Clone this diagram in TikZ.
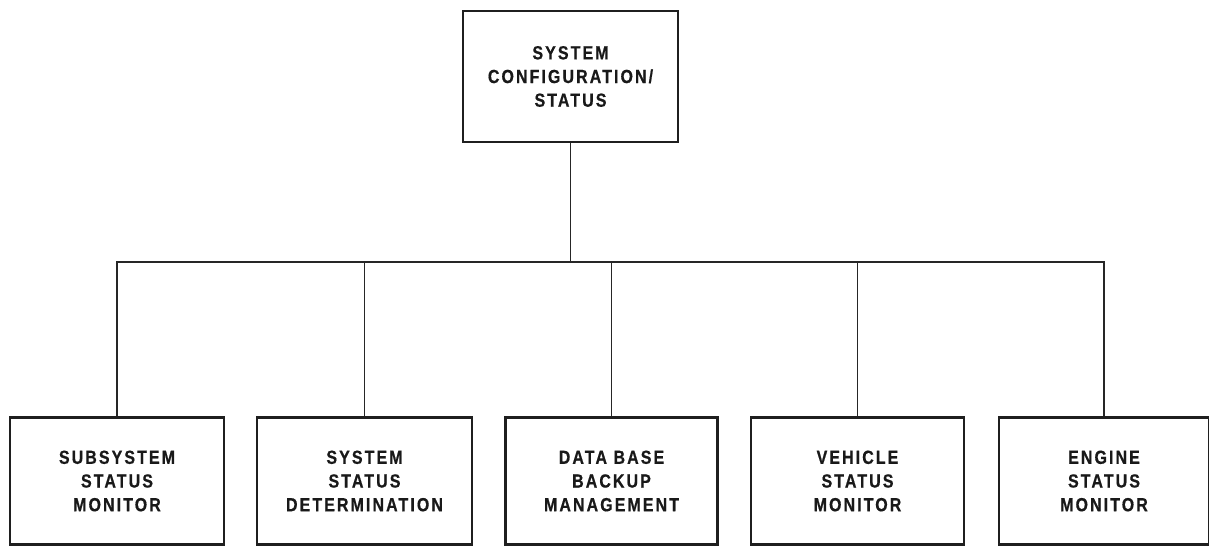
\documentclass[tikz,border=0pt]{standalone}
\usepackage{fontspec}
\setmainfont{Liberation Sans}[FakeStretch=0.84,LetterSpace=11,FakeBold=0.6]
\begin{document}
\begin{tikzpicture}[x=1pt,y=-1pt,
  block/.style={draw=black!88,line width=2.6pt,rectangle,align=center,
    font=\bfseries\fontsize{19}{23.7}\selectfont,text=black!90,inner sep=0pt},
  low/.style={block,minimum height=127pt},
  conn/.style={draw=black!85,line width=1.5pt}]
\useasboundingbox (0,0) rectangle (1209,546);
% top-level function
\node[block,minimum width=215pt,minimum height=131pt] (top) at (570.5,76.5)
  {SYSTEM\\CONFIGURATION/\\STATUS};
% subordinate functions
\node[low,minimum width=214pt] (b1) at (117,481) {SUBSYSTEM\\STATUS\\MONITOR};
\node[low,minimum width=215pt] (b2) at (364.5,481) {SYSTEM\\STATUS\\DETERMINATION};
\node[low,minimum width=212pt] (b3) at (611.5,481) {DATA BASE\\BACKUP\\MANAGEMENT};
\node[low,minimum width=213pt] (b4) at (857.5,481) {VEHICLE\\STATUS\\MONITOR};
\node[low,minimum width=210pt] (b5) at (1104,481) {ENGINE\\STATUS\\MONITOR};
% distribution bus
\coordinate (bus) at (0,262);
\draw[conn] (top.south) -- (top.south |- bus);
\draw[conn] (b1.north) -- (b1.north |- bus) -| (b5.north);
\draw[conn] (b2.north) -- (b2.north |- bus);
\draw[conn] (b3.north) -- (b3.north |- bus);
\draw[conn] (b4.north) -- (b4.north |- bus);
\end{tikzpicture}
\end{document}
